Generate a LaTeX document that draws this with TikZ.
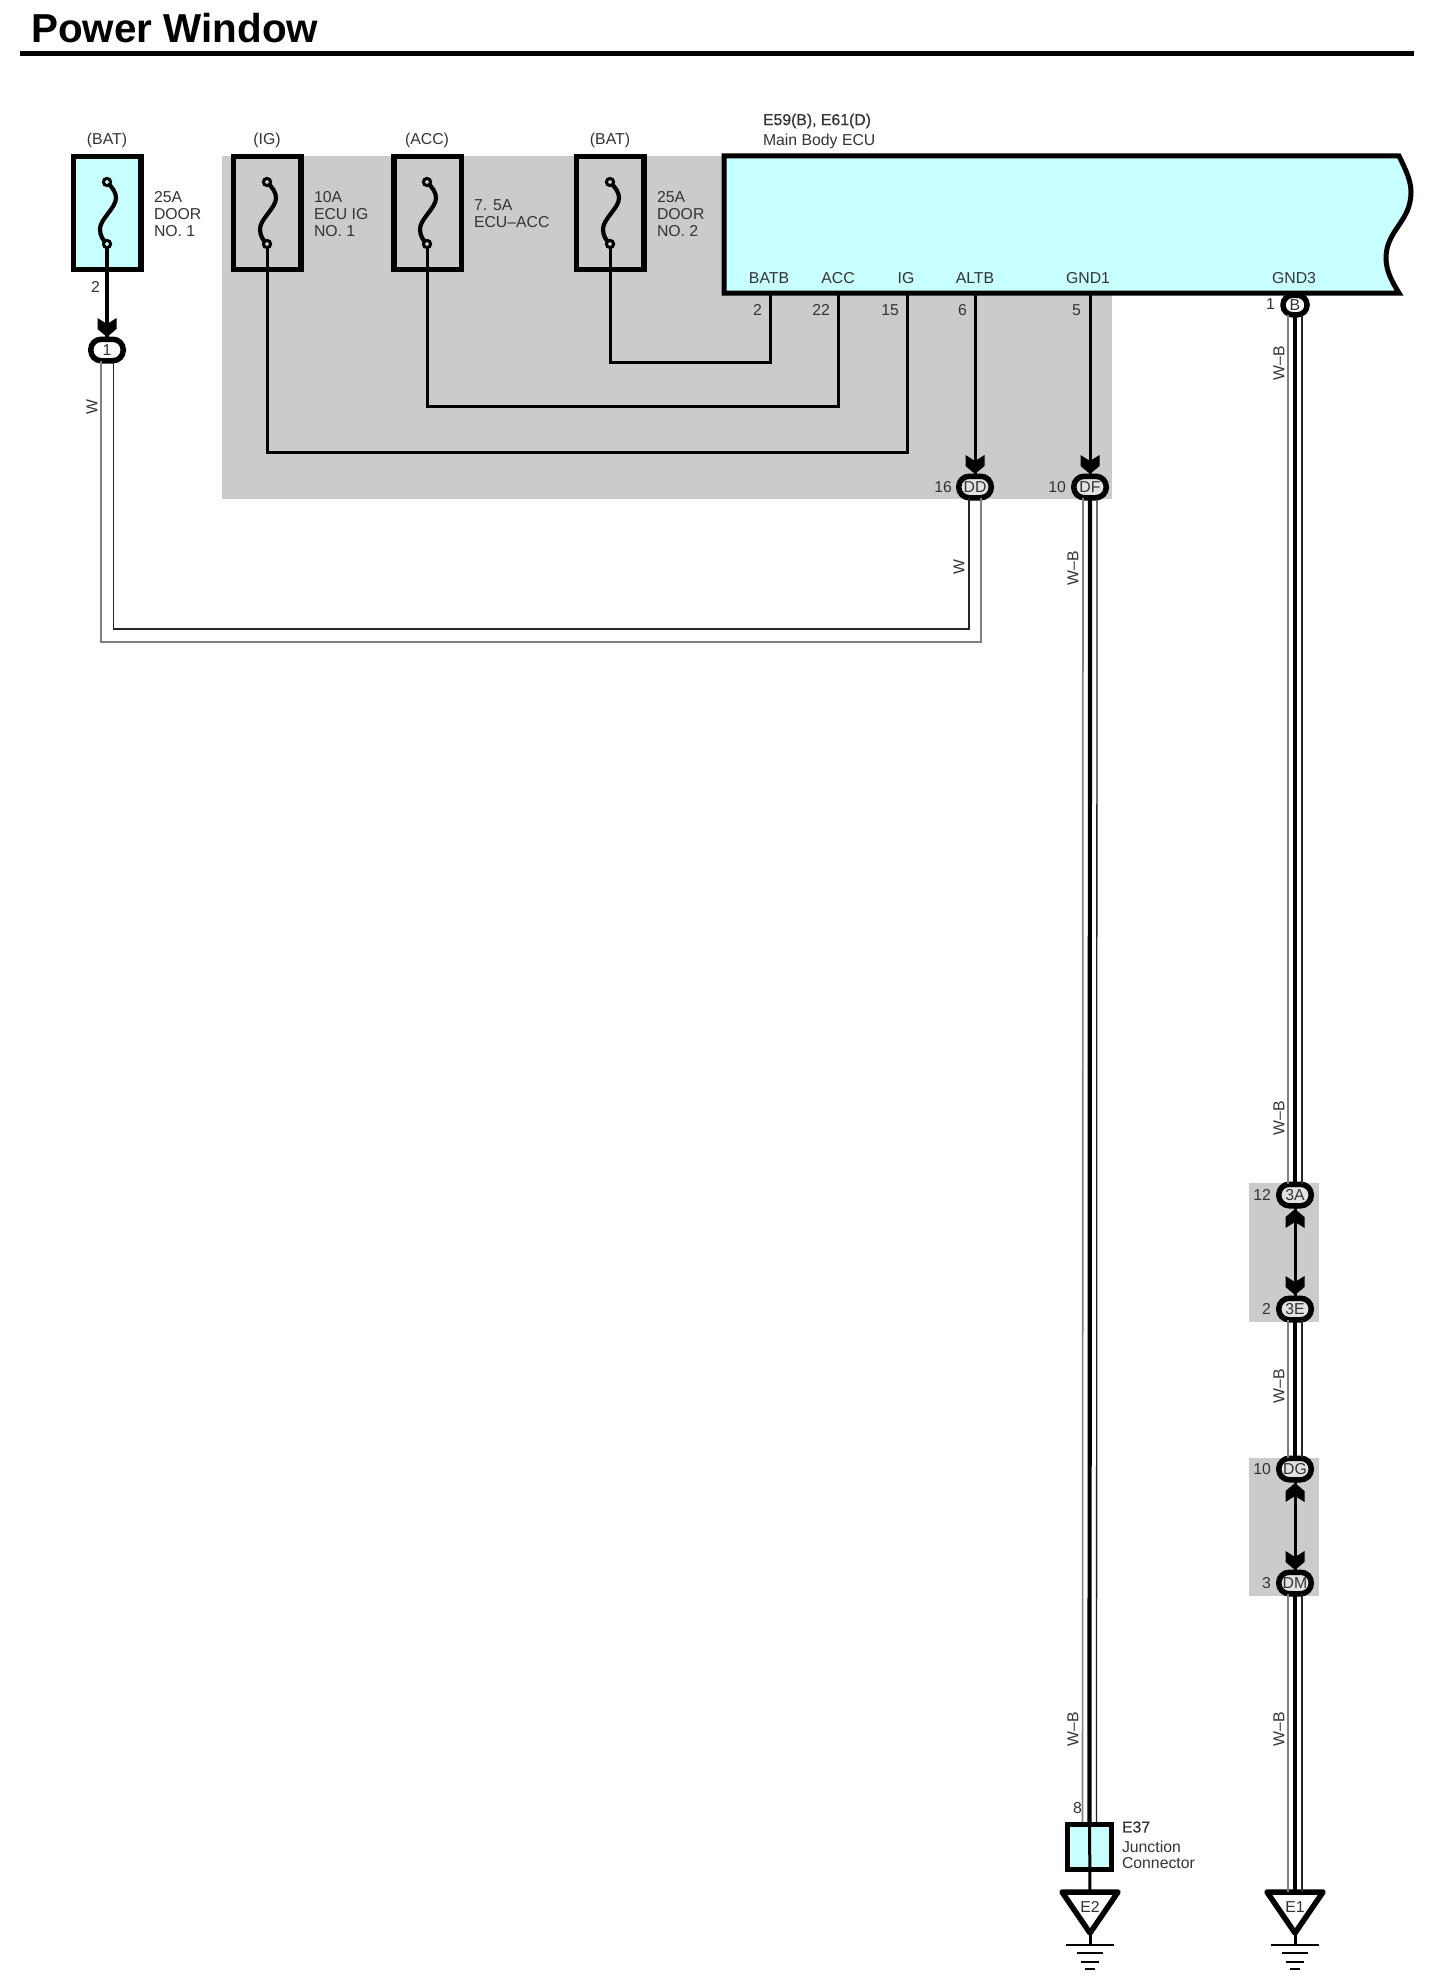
\documentclass[tikz,border=0pt]{standalone}
\usepackage{fontspec}
\setmainfont{Liberation Sans}
\newfontfamily\fakeheavy[FakeBold=0.6]{Liberation Sans}
\definecolor{bandgray}{HTML}{CBCBCB}
\definecolor{ecucyan}{HTML}{C8FFFF}
\definecolor{inkgray}{HTML}{333333}
\tikzset{
  lbl/.style={font=\fontsize{15.8}{17}\selectfont, text=inkgray, inner sep=0pt, outer sep=0pt},
  lblw/.style={lbl, anchor=west, align=left},
  lble/.style={lbl, anchor=east},
  wirethin/.style={line width=3pt, black},
  wirethick/.style={line width=4.2pt, black},
  railgray/.style={line width=1.6pt, black!50},
  raildark/.style={line width=1.3pt, black!85},
  fusebox/.style={draw=black, line width=5.5pt, minimum width=67.5pt, minimum height=113pt, inner sep=0pt},
  conn/.style={draw=black, line width=5.5pt, fill=#1, minimum width=32.5pt, minimum height=21.5pt, inner sep=0pt, rounded corners=10.5pt, lbl},
  conn/.default=white,
  fusesym/.pic={
    \draw[line width=4.2pt] (0pt,-31pt) .. controls (-4pt,-27pt) and (-7pt,-23pt) .. (-7pt,-16pt)
      .. controls (-7pt,-6pt) and (9pt,5pt) .. (9pt,15pt)
      .. controls (9pt,21pt) and (5pt,26pt) .. (0pt,31pt);
    \coordinate (-low) at (0,31);
  },
  fuseeye/.pic={\draw[line width=3pt, fill=#1] (0,0) circle (3.6pt);},
  chevron/.pic={
    \fill[black] (0,0) -- (9.5,-8) -- (9.5,-19) -- (0,-13) -- (-9.5,-19) -- (-9.5,-8) -- cycle;
  },
  chevronup/.pic={
    \fill[black] (0,0) -- (9.5,8) -- (9.5,19) -- (0,13) -- (-9.5,19) -- (-9.5,8) -- cycle;
  },
  groundsym/.pic={
    \coordinate (-top) at (0,0);
    \draw[line width=5.5pt, line join=round, fill=white] (-28,0) -- (28,0) -- (0,41) -- cycle;
    \draw[line width=3pt] (0,41) -- (0,53);
    \draw[line width=2.6pt] (-24,53) -- (24,53);
    \draw[line width=2.6pt] (-13,61) -- (13,61);
    \draw[line width=2.6pt] (-9,70) -- (9,70);
    \draw[line width=2.6pt] (-5,77) -- (5,77);
  },
}
\begin{document}
\begin{tikzpicture}[x=1pt,y=-1pt]
\useasboundingbox (0,0) rectangle (1428,1980);
\fill[white] (0,0) rectangle (1428,1980);

% title
\node[anchor=base west, inner sep=0pt, font=\fontsize{40.4}{44}\selectfont\bfseries] (title) at (31,43) {Power Window};
\draw[line width=5pt] (20,54) -- (1414,54);

% shaded regions
\fill[bandgray] (222,156) rectangle (1112,499);
\fill[bandgray] (1249,1183) rectangle (1319,1322);
\fill[bandgray] (1249,1458) rectangle (1319,1596);

% ECU
\draw[line width=5pt, fill=ecucyan, line join=miter]
  (724,156) -- (1399,156) .. controls (1407,172) and (1411,182) .. (1411,192)
  .. controls (1411,222) and (1386,230) .. (1386,258)
  .. controls (1386,272) and (1393,283) .. (1399,293) -- (724,293) -- cycle;
\coordinate (batb) at (770,293);
\coordinate (acc) at (838,293);
\coordinate (ig) at (907,293);
\coordinate (altb) at (975,293);
\coordinate (gndone) at (1090,293);
\coordinate (gndthree) at (1295,293);
\node[lbl, anchor=west] (ecutag) at (763,121) {\fakeheavy E59(B), E61(D)};
\node[lbl, anchor=west] (ecuname) at (763,141) {Main Body ECU};
\node[lbl] (lbatb) at (769,278) {BATB};
\node[lbl] (lacc) at (838,278) {ACC};
\node[lbl] (lig) at (906,278) {IG};
\node[lbl] (laltb) at (975,278) {ALTB};
\node[lbl] (lgndone) at (1088,278) {GND1};
\node[lbl] (lgndthree) at (1294,278) {GND3};

% fuses
\node[fusebox, fill=ecucyan] (fa) at (107,213) {};
\node[fusebox] (fb) at (267,213) {};
\node[fusebox] (fc) at (427.5,213) {};
\node[fusebox] (fd) at (610,213) {};
\pic (sa) at (107,213) {fusesym};
\pic (sb) at (267,213) {fusesym};
\pic (sc) at (427,213) {fusesym};
\pic (sd) at (610,213) {fusesym};

\node[lbl] (ta) at (107,140) {(BAT)};
\node[lbl] (tb) at (267,140) {(IG)};
\node[lbl] (tc) at (427,140) {(ACC)};
\node[lbl] (td) at (610,140) {(BAT)};
\node[lblw] (va) at (154,214) {25A\\DOOR\\NO. 1};
\node[lblw] (vb) at (314,214) {10A\\ECU IG\\NO. 1};
\node[lblw] (vc) at (474,214) {7. 5A\\ECU–ACC};
\node[lblw] (vd) at (657,214) {25A\\DOOR\\NO. 2};

% connectors
\node[conn] (one) at (107,350) {1};
\node[conn=bandgray!55!white] (dd) at (975,487) {DD};
\node[conn=bandgray!55!white] (df) at (1090,487) {DF};
\node[conn, minimum width=24pt, minimum height=19.5pt, rounded corners=9.5pt] (bb) at (1295,305) {B};
\node[conn=bandgray!55!white] (ta3) at (1295,1195) {3A};
\node[conn=bandgray!55!white] (te3) at (1295,1309) {3E};
\node[conn=bandgray!55!white] (dg) at (1295,1469) {DG};
\node[conn=bandgray!55!white] (dm) at (1295,1583) {DM};

% single wires
\draw[wirethick] (sa-low) -- (one.north);
\draw[wirethin, line join=miter] (sd-low) |- (610,362) -| (batb);
\draw[wirethin] (sc-low) |- (427,406) -| (acc);
\draw[wirethin] (sb-low) |- (267,452) -| (ig);
\draw[wirethin] (altb) -- (dd.north);
\draw[wirethin] (gndone) -- (df.north);
\draw[wirethin] (ta3.south) -- (te3.north);
\draw[wirethin] (dg.south) -- (dm.north);

% fuse terminals
\pic at (107,182) {fuseeye=ecucyan};
\pic at (107,244) {fuseeye=ecucyan};
\pic at (267,182) {fuseeye=bandgray};
\pic at (267,244) {fuseeye=bandgray};
\pic at (427,182) {fuseeye=bandgray};
\pic at (427,244) {fuseeye=bandgray};
\pic at (610,182) {fuseeye=bandgray};
\pic at (610,244) {fuseeye=bandgray};

% arrowheads
\pic at (107,337) {chevron};
\pic at (975,474) {chevron};
\pic at (1090,474) {chevron};
\pic at (1295,1209) {chevronup};
\pic at (1295,1295) {chevron};
\pic at (1295,1483) {chevronup};
\pic at (1295,1570) {chevron};

% W wire (double outline)
\draw[railgray] ([xshift=-6pt]one.south) |- (101,642) -| ([xshift=6pt]dd.south);
\draw[raildark] ([xshift=6.5pt]one.south) |- (113,629) -| ([xshift=-6pt]dd.south);

% ground symbols and junction connector
\node[draw=black, line width=5pt, fill=ecucyan, minimum width=44.5pt, minimum height=45pt, inner sep=0pt] (jc) at (1089.5,1847) {};
\pic (gtwo) at (1090,1892) {groundsym};
\pic (gone) at (1295,1892) {groundsym};
\node[lbl] (etwo) at (1090,1907) {E2};
\node[lbl] (eone) at (1295,1907) {E1};

% W-B wires
\foreach \from/\to in {df.south/jc.north, bb.south/ta3.north, te3.south/dg.north, dm.south/gone-top}{
  \draw[wirethick] (\from) -- (\to);
  \draw[railgray] ([xshift=-7pt]\from) -- ([xshift=-7pt]\to);
  \draw[raildark] ([xshift=7pt]\from) -- ([xshift=7pt]\to);
}
\draw[wirethin] (jc.north) -- (gtwo-top);

% junction text
\node[lbl, anchor=west] (jtag) at (1122,1827) {\fakeheavy E37};
\node[lbl, anchor=west] (jname) at (1122,1847) {Junction};
\node[lbl, anchor=west] (jname2) at (1122,1863) {Connector};

% pin numbers
\node[lble] (na) at (100,287) {2};
\node[lble] at (762,310) {2};
\node[lble] at (830,310) {22};
\node[lble] at (899,310) {15};
\node[lble] at (967,310) {6};
\node[lble] at (1081,310) {5};
\node[lble] at (1275,304) {1};
\node[lble] at (952,487) {16};
\node[lble] at (1066,487) {10};
\node[lble] at (1271,1195) {12};
\node[lble] at (1271,1309) {2};
\node[lble] at (1271,1469) {10};
\node[lble] at (1271,1583) {3};
\node[lble] at (1082,1808) {8};

% wire colour labels
\node[lbl, rotate=90] at (92,407) {W};
\node[lbl, rotate=90] at (959,567) {W};
\node[lbl, rotate=90] at (1073,568) {W–B};
\node[lbl, rotate=90] at (1073,1729) {W–B};
\node[lbl, rotate=90] at (1279,363) {W–B};
\node[lbl, rotate=90] at (1279,1118) {W–B};
\node[lbl, rotate=90] at (1279,1386) {W–B};
\node[lbl, rotate=90] at (1279,1729) {W–B};
\end{tikzpicture}
\end{document}
